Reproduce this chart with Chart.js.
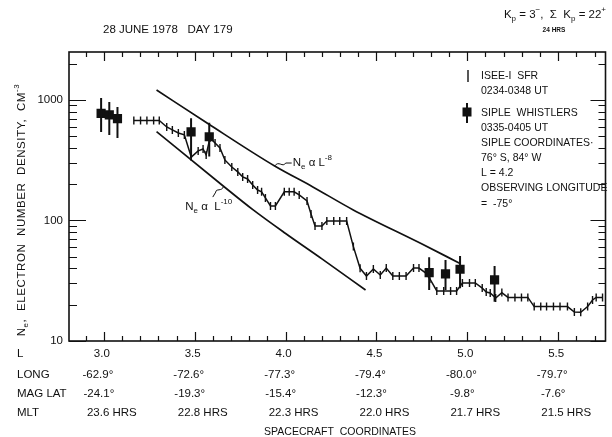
<!DOCTYPE html>
<html>
<head>
<meta charset="utf-8">
<title>Electron number density, 28 June 1978</title>
<script src="https://cdn.jsdelivr.net/npm/chart.js@4.4.1/dist/chart.umd.min.js"></script>
<style>
  html, body { margin: 0; padding: 0; background: #fff; }
  #chart { display: block; }
</style>
</head>
<body>
<canvas id="chart" width="612" height="437"></canvas>
<script>
// ISEE-1 SFR profile (L, Ne cm^-3)
const sfrL = [3.165, 3.202, 3.237, 3.274, 3.305, 3.346, 3.377, 3.410, 3.443, 3.481,
              3.519, 3.546, 3.563, 3.584, 3.612, 3.639, 3.666, 3.704, 3.737, 3.764,
              3.791, 3.819, 3.846, 3.868, 3.889, 3.917, 3.944, 3.993, 4.020, 4.047,
              4.075, 4.118, 4.140, 4.162, 4.200, 4.227, 4.265, 4.298, 4.336, 4.373,
              4.410, 4.445, 4.483, 4.521, 4.554, 4.590, 4.626, 4.663, 4.704, 4.734,
              4.772, 4.794, 4.832, 4.870, 4.908, 4.941, 4.973, 5.012, 5.044, 5.082,
              5.104, 5.126, 5.156, 5.190, 5.224, 5.262, 5.298, 5.333, 5.368, 5.404,
              5.436, 5.474, 5.510, 5.551, 5.589, 5.624, 5.662, 5.689, 5.709, 5.744];
const sfrN = [675, 675, 675, 675, 675, 597, 564, 532, 513, 336,
              378, 392, 350, 484, 440, 400, 318, 278, 253, 230,
              221, 197, 179, 173, 154, 132, 132, 173, 173, 173,
              163, 145, 113, 90, 90, 99, 99, 99, 99, 60.7,
              40.1, 34.6, 39.6, 35.3, 40.3, 34.6, 34.6, 34.6, 40.3, 40.3,
              36.6, 32.7, 26.0, 26.0, 26.0, 26.0, 30.3, 30.3, 30.3, 27.5,
              25.5, 25.0, 22.7, 25.2, 23.0, 23.0, 23.0, 23.0, 19.3, 19.3,
              19.3, 19.3, 19.3, 19.3, 17.4, 17.3, 19.3, 21.9, 23.0, 23.0];

// Siple whistlers with their ranges
const whistlerL = [2.985, 3.03, 3.075, 3.48, 3.58, 4.79, 4.88, 4.96, 5.15];
const whistlerN = [775, 752, 700, 543, 495, 36.9, 36.0, 39.4, 32.1];
const whistlerLow = [543, 513, 484, 329, 339, 26.5, 26.5, 27.4, 21.2];
const whistlerHigh = [1039, 963, 875, 705, 648, 49.6, 47.0, 50.7, 41.9];

// reference curves Ne ~ L^-8 and Ne ~ L^-10
const law8L = [3.29, 3.57, 3.94, 4.15, 4.37, 4.74, 4.96];
const law8N = [1210, 640, 283, 190, 123, 65, 44];
const law10L = [3.29, 3.65, 3.82, 4.0, 4.2, 4.44];
const law10N = [546, 197, 123, 78, 48, 26.5];

// spacecraft coordinate table under the axis
const tableL = [3.0, 3.5, 4.0, 4.5, 5.0, 5.5];
const lLabels = ['3.0', '3.5', '4.0', '4.5', '5.0', '5.5'];
const longLabels = ['-62.9°', '-72.6°', '-77.3°', '-79.4°', '-80.0°', '-79.7°'];
const magLatLabels = ['-24.1°', '-19.3°', '-15.4°', '-12.3°', '-9.8°', '-7.6°'];
const mltLabels = ['23.6 HRS', '22.8 HRS', '22.3 HRS', '22.0 HRS', '21.7 HRS', '21.5 HRS'];
const yTickValues = [10, 100, 1000];
const yTickLabels = ['10', '100', '1000'];

const FONT = "'Liberation Sans', Arial, sans-serif";
const INK = '#111';

const pts = (xs, ys) => xs.map((x, i) => ({ x, y: ys[i] }));

// rich text: parts are [text, '' | 'sub' | 'sup']
function drawRich(ctx, parts, x, y, size, align) {
    const base = `${size}px ${FONT}`;
    const small = `${Math.round(size * 0.72)}px ${FONT}`;
    let total = 0;
    const widths = parts.map(([t, m]) => {
        ctx.font = m ? small : base;
        const w = ctx.measureText(t).width;
        total += w;
        return w;
    });
    let cx = align === 'center' ? x - total / 2 : align === 'right' ? x - total : x;
    ctx.textAlign = 'left';
    ctx.textBaseline = 'middle';
    parts.forEach(([t, m], i) => {
        ctx.font = m ? small : base;
        const dy = m === 'sub' ? size * 0.35 : m === 'sup' ? -size * 0.42 : 0;
        ctx.fillText(t, cx, y + dy);
        cx += widths[i];
    });
}

const paper = {
    id: 'paper',
    beforeDraw(chart) {
        const ctx = chart.ctx;
        ctx.save();
        ctx.fillStyle = '#fff';
        ctx.fillRect(0, 0, chart.width, chart.height);
        ctx.restore();
    }
};

// frame with inward ticks on all four sides
const frame = {
    id: 'frame',
    afterDatasetsDraw(chart) {
        const { ctx, chartArea: a, scales: { x, y } } = chart;
        ctx.save();
        ctx.strokeStyle = INK;
        ctx.lineWidth = 1.6;
        ctx.strokeRect(a.left, a.top, a.right - a.left, a.bottom - a.top);
        ctx.lineWidth = 1.2;
        ctx.beginPath();
        for (let k = 29; k <= 57; k++) {
            const px = Math.round(x.getPixelForValue(k / 10)) + 0.5;
            const major = k % 5 === 0;
            ctx.moveTo(px, a.bottom);
            ctx.lineTo(px, a.bottom - (major ? 9 : 5));
            ctx.moveTo(px, a.top);
            ctx.lineTo(px, a.top + (major ? 9 : 5));
        }
        for (let d = 10; d <= 1000; d *= 10) {
            for (let m = 1; m <= 9; m++) {
                const v = m * d;
                if (v > y.max) break;
                const py = Math.round(y.getPixelForValue(v)) + 0.5;
                const major = m === 1;
                ctx.moveTo(a.left, py);
                ctx.lineTo(a.left + (major ? 17 : 8), py);
                ctx.moveTo(a.right, py);
                ctx.lineTo(a.right - (major ? 15 : 7), py);
            }
        }
        ctx.stroke();
        ctx.restore();
    }
};

// vertical ranges of the whistler estimates
const errorBars = {
    id: 'errorBars',
    afterDatasetsDraw(chart) {
        const { ctx, scales: { x, y } } = chart;
        ctx.save();
        ctx.strokeStyle = INK;
        ctx.lineWidth = 2;
        ctx.beginPath();
        whistlerL.forEach((l, i) => {
            const px = x.getPixelForValue(l);
            ctx.moveTo(px, y.getPixelForValue(whistlerLow[i]));
            ctx.lineTo(px, y.getPixelForValue(whistlerHigh[i]));
        });
        ctx.stroke();
        ctx.restore();
    }
};

// all the lettering around the plot
const lettering = {
    id: 'lettering',
    afterDraw(chart) {
        const { ctx, scales: { x, y } } = chart;
        ctx.save();
        ctx.fillStyle = INK;
        ctx.strokeStyle = INK;

        // header
        ctx.font = `11.5px ${FONT}`;
        ctx.textAlign = 'left';
        ctx.textBaseline = 'middle';
        ctx.fillText('28 JUNE 1978   DAY 179', 103, 30);
        drawRich(ctx, [['K', ''], ['p', 'sub'], [' = 3', ''], ['−', 'sup'], [',  Σ  K', ''],
                       ['p', 'sub'], [' = 22', ''], ['+', 'sup']], 606, 15, 11.5, 'right');
        ctx.font = `bold 6.5px ${FONT}`;
        ctx.textAlign = 'center';
        ctx.fillText('24 HRS', 554, 30);

        // y tick labels and title
        ctx.font = `11.5px ${FONT}`;
        ctx.textAlign = 'right';
        yTickValues.forEach((v, i) => ctx.fillText(yTickLabels[i], 63, y.getPixelForValue(v)));
        ctx.save();
        ctx.translate(22, 210);
        ctx.rotate(-Math.PI / 2);
        ctx.letterSpacing = '0.6px';
        drawRich(ctx, [['N', ''], ['e', 'sub'], [',  ELECTRON  NUMBER  DENSITY,  CM', ''], ['-3', 'sup']],
                 0, 0, 11.5, 'center');
        ctx.restore();

        // coordinate table
        const rows = [
            ['L', lLabels, 354, -2],
            ['LONG', longLabels, 375, -6],
            ['MAG LAT', magLatLabels, 394, -5],
            ['MLT', mltLabels, 413, 8]
        ];
        ctx.font = `11.5px ${FONT}`;
        rows.forEach(([name, labels, py, dx]) => {
            ctx.textAlign = 'left';
            ctx.fillText(name, 17, py);
            ctx.textAlign = 'center';
            labels.forEach((t, i) => ctx.fillText(t, x.getPixelForValue(tableL[i]) + dx, py));
        });
        ctx.font = `10.5px ${FONT}`;
        ctx.fillText('SPACECRAFT  COORDINATES', 340, 432);

        // legend
        ctx.lineWidth = 1.4;
        ctx.beginPath();
        ctx.moveTo(468, 70); ctx.lineTo(468, 82);
        ctx.stroke();
        ctx.lineWidth = 2;
        ctx.beginPath();
        ctx.moveTo(467, 103); ctx.lineTo(467, 123);
        ctx.stroke();
        ctx.fillRect(462.5, 107.5, 9, 9);
        ctx.font = `10.5px ${FONT}`;
        ctx.textAlign = 'left';
        const legendLines = [
            ['ISEE-I  SFR', 76], ['0234-0348 UT', 91], ['SIPLE  WHISTLERS', 113],
            ['0335-0405 UT', 128], ['SIPLE COORDINATES·', 143], ['76° S, 84° W', 158],
            ['L = 4.2', 173], ['OBSERVING LONGITUDE', 188], ['=  -75°', 204]
        ];
        legendLines.forEach(([t, py]) => ctx.fillText(t, 481, py));

        // curve labels with wavy leaders
        ctx.lineWidth = 1;
        let sx = x.getPixelForValue(3.94), sy = y.getPixelForValue(283);
        ctx.beginPath();
        ctx.moveTo(sx, sy);
        ctx.bezierCurveTo(sx + 4, sy - 6, sx + 8, sy + 2, sx + 11, sy - 3);
        ctx.lineTo(sx + 17, sy - 3);
        ctx.stroke();
        drawRich(ctx, [['N', ''], ['e', 'sub'], [' α L', ''], ['-8', 'sup']], sx + 18, sy - 3, 11.5, 'left');

        sx = x.getPixelForValue(3.66); sy = y.getPixelForValue(193);
        ctx.beginPath();
        ctx.moveTo(sx, sy);
        ctx.bezierCurveTo(sx - 2, sy + 6, sx - 8, sy + 2, sx - 8, sy + 6);
        ctx.lineTo(sx - 11, sy + 11);
        ctx.stroke();
        drawRich(ctx, [['N', ''], ['e', 'sub'], [' α  L', ''], ['-10', 'sup']], sx - 15, sy + 21, 11.5, 'center');

        ctx.restore();
    }
};

new Chart(document.getElementById('chart'), {
    type: 'scatter',
    data: {
        datasets: [
            {
                label: 'ISEE-1 SFR',
                data: pts(sfrL, sfrN),
                showLine: true,
                borderColor: INK,
                borderWidth: 1.5,
                pointStyle: 'line',
                rotation: 90,
                pointRadius: 4,
                pointBorderWidth: 1.4,
                pointBorderColor: INK
            },
            {
                label: 'Siple whistlers',
                data: pts(whistlerL, whistlerN),
                showLine: false,
                pointStyle: 'rect',
                pointRadius: 6.5,
                pointBackgroundColor: INK,
                pointBorderColor: INK,
                pointBorderWidth: 0
            },
            {
                label: 'Ne ~ L^-8',
                data: pts(law8L, law8N),
                showLine: true,
                borderColor: INK,
                borderWidth: 1.7,
                pointRadius: 0,
                cubicInterpolationMode: 'monotone'
            },
            {
                label: 'Ne ~ L^-10',
                data: pts(law10L, law10N),
                showLine: true,
                borderColor: INK,
                borderWidth: 1.7,
                pointRadius: 0,
                cubicInterpolationMode: 'monotone'
            }
        ]
    },
    options: {
        responsive: false,
        animation: false,
        devicePixelRatio: 1,
        layout: { padding: { left: 69, right: 1, top: 52, bottom: 96 } },
        scales: {
            x: { type: 'linear', min: 2.8083, max: 5.7603, display: false },
            y: { type: 'logarithmic', min: 10, max: 2500, display: false }
        },
        plugins: {
            legend: { display: false },
            tooltip: { enabled: false }
        }
    },
    plugins: [paper, frame, errorBars, lettering]
});
</script>
</body>
</html>
